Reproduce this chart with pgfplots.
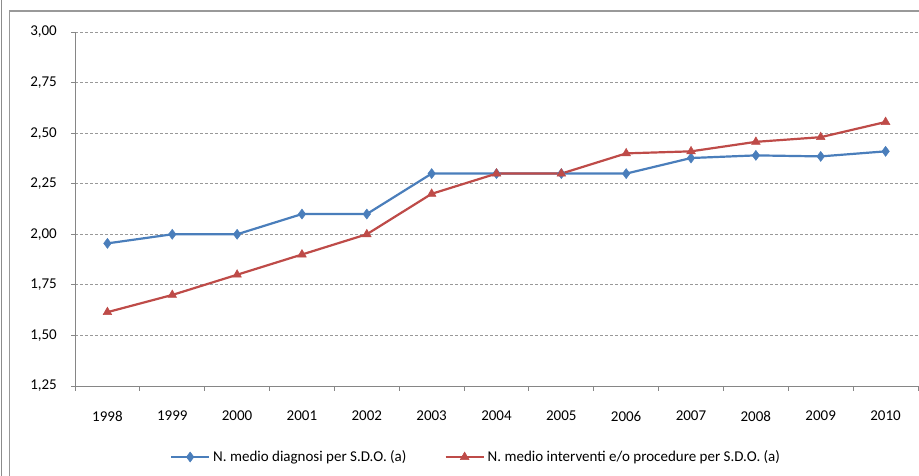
\documentclass[border=0pt]{standalone}
\usepackage{pgfplots}
\pgfplotsset{compat=1.18}
\usepackage{fontspec}
\setmainfont{Carlito}
\definecolor{serblu}{HTML}{4A7EBB}
\definecolor{serred}{HTML}{BE4B48}
\definecolor{axgray}{HTML}{868686}
\begin{document}
\begin{tikzpicture}
\useasboundingbox (0pt,0pt) rectangle (919pt,476pt);
\clip (0pt,0pt) rectangle (919pt,476pt);
% cornici esterne
\draw[line width=1.6pt, black!45] (1.5pt,-5pt) -- (1.5pt,481pt);
\draw[line width=1.6pt, black!40] (9.5pt,-5pt) -- (9.5pt,465pt) -- (930pt,465pt);
\begin{axis}[
    at={(75pt,90pt)}, anchor=south west,
    scale only axis,
    width=843pt, height=354pt,
    xmin=1997.5, xmax=2010.5,
    ymin=1.25, ymax=3.00,
    xtick={1998,...,2010},
    minor xtick={1997.5,1998.5,...,2010.5},
    ytick={1.25,1.5,...,3.0},
    axis x line*=bottom,
    axis y line*=left,
    axis line style={axgray, line width=0.9pt, -},
    tick align=outside,
    major tick length=4pt,
    minor tick length=5pt,
    major x tick style={draw=none},
    minor x tick style={axgray, line width=0.9pt},
    y tick style={axgray, line width=0.9pt},
    ymajorgrids,
    grid style={densely dashed, black!40, line width=0.8pt},
    font=\fontsize{15}{18}\selectfont,
    x tick label style={inner sep=0pt, anchor=north, yshift=-21pt,
        /pgf/number format/.cd, 1000 sep={}},
    y tick label style={inner sep=0pt, anchor=east, xshift=-14pt,
        /pgf/number format/.cd, fixed, fixed zerofill, precision=2, use comma},
    /pgf/number format/assume math mode=true,
    legend style={at={(0.4757,-0.2006)}, anchor=center, draw=none,
        legend columns=2, font=\fontsize{15}{18}\selectfont,
        /tikz/every even column/.append style={column sep=36pt},
        /tikz/every odd column/.append style={column sep=1pt}},
    legend cell align=left,
    legend image code/.code={
        \draw[#1, mark repeat=2, mark phase=2] plot coordinates {(0pt,0pt) (19pt,0pt) (38pt,0pt)};},
    clip=false,
]
    % N. medio diagnosi per S.D.O.
    \addplot[serblu, line width=2.2pt, mark=diamond*, mark size=5pt,
        mark options={solid, line width=0.5pt}] coordinates {
        (1998,1.955) (1999,2.00) (2000,2.00) (2001,2.10) (2002,2.10)
        (2003,2.30) (2004,2.30) (2005,2.30) (2006,2.30) (2007,2.377)
        (2008,2.39) (2009,2.385) (2010,2.41)
    };
    % N. medio interventi e/o procedure per S.D.O.
    \addplot[serred, line width=2.2pt, mark=triangle*, mark size=5pt,
        mark options={solid, line width=0.5pt}] coordinates {
        (1998,1.615) (1999,1.70) (2000,1.80) (2001,1.90) (2002,2.00)
        (2003,2.20) (2004,2.30) (2005,2.30) (2006,2.40) (2007,2.41)
        (2008,2.457) (2009,2.48) (2010,2.555)
    };
    \legend{N. medio diagnosi per S.D.O. (a), N. medio interventi e/o procedure per S.D.O. (a)}
\end{axis}
\end{tikzpicture}
\end{document}
